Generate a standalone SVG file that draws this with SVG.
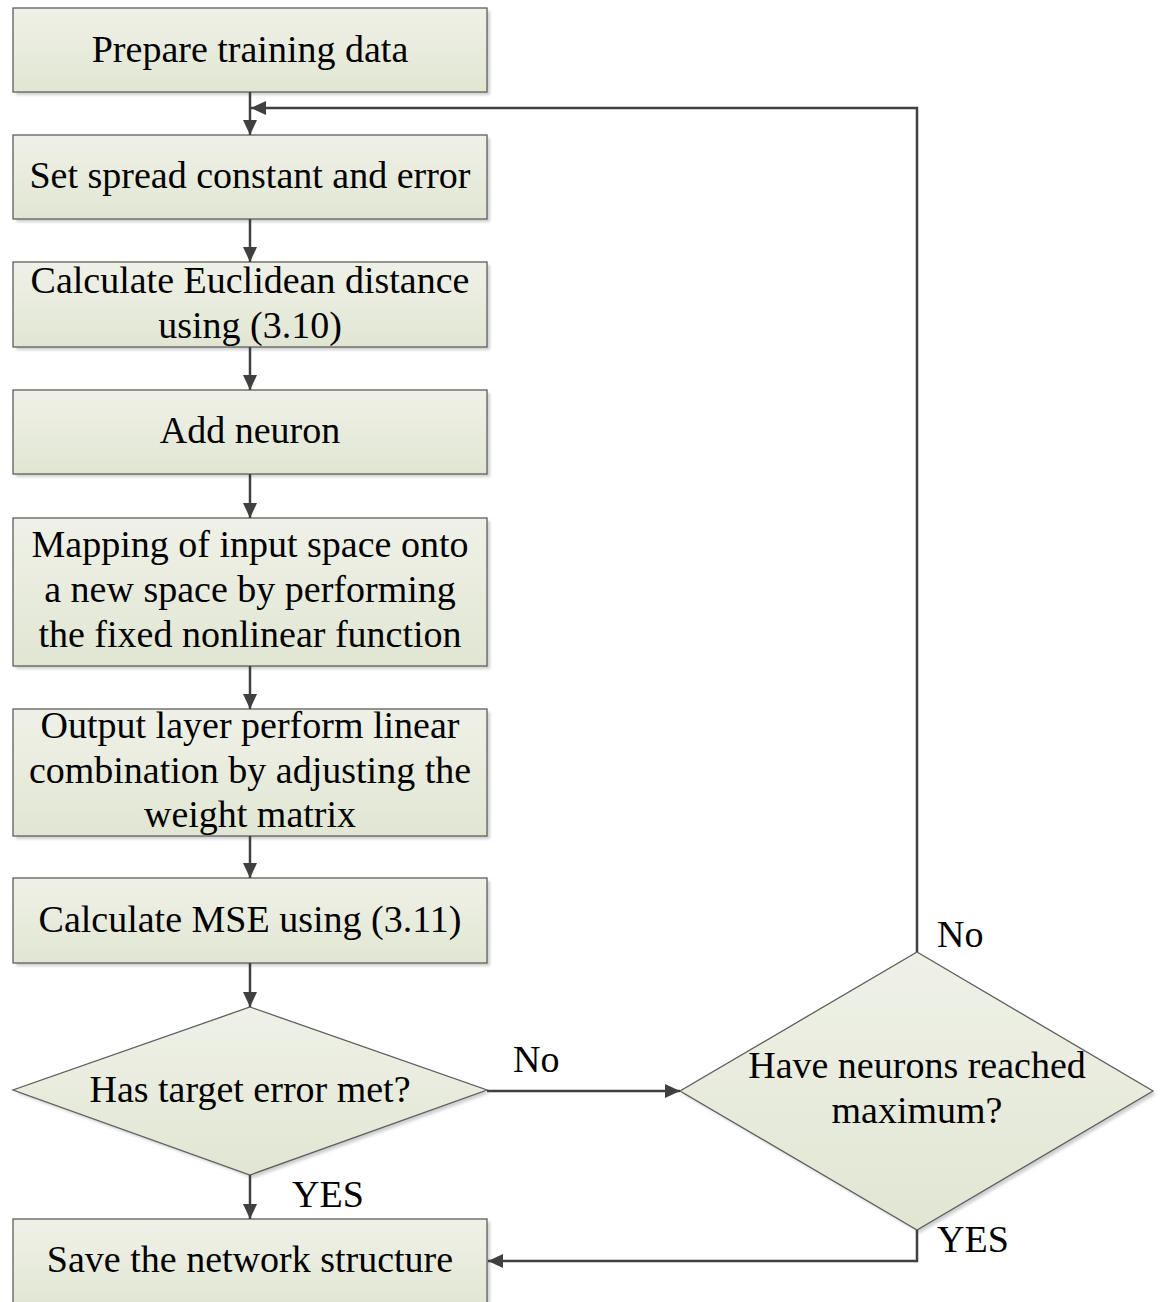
<svg xmlns="http://www.w3.org/2000/svg" width="1160" height="1302" viewBox="0 0 1160 1302">
<style>
.box{fill:url(#g);stroke:#5e5e5e;stroke-width:1.3}
.sh{fill:#cfcfcf;filter:url(#b)}
.t{font-family:"Liberation Serif","Times New Roman",serif;font-size:38px;fill:#000;text-anchor:middle}
.l{font-family:"Liberation Serif","Times New Roman",serif;font-size:38px;fill:#000}
.c{fill:none;stroke:#404040;stroke-width:2.5}
</style>
<defs>
<linearGradient id="g" x1="0" y1="0" x2="0" y2="1">
<stop offset="0" stop-color="#eff1e7"/>
<stop offset="1" stop-color="#e1e6d3"/>
</linearGradient>
<filter id="b" x="-5%" y="-5%" width="110%" height="110%"><feGaussianBlur stdDeviation="1.5"/></filter>
<marker id="a" markerUnits="userSpaceOnUse" markerWidth="16" markerHeight="14" refX="15" refY="7" orient="auto">
<path d="M0,0 L15,7 L0,14 Z" fill="#404040"/>
</marker>
</defs>

<g id="n1"><rect class="sh" x="16" y="11" width="474" height="84"/><rect class="box" x="13" y="8" width="474" height="84"/><text class="t" x="250" y="62">Prepare training data</text></g>
<g id="n2"><rect class="sh" x="16" y="138" width="474" height="84"/><rect class="box" x="13" y="135" width="474" height="84"/><text class="t" x="250" y="188">Set spread constant and error</text></g>
<g id="n3"><rect class="sh" x="16" y="265" width="474" height="85"/><rect class="box" x="13" y="262" width="474" height="85"/><text class="t" x="250" y="293">Calculate Euclidean distance</text><text class="t" x="250" y="338">using (3.10)</text></g>
<g id="n4"><rect class="sh" x="16" y="393" width="474" height="84"/><rect class="box" x="13" y="390" width="474" height="84"/><text class="t" x="250" y="443">Add neuron</text></g>
<g id="n5"><rect class="sh" x="16" y="521" width="474" height="148"/><rect class="box" x="13" y="518" width="474" height="148"/><text class="t" x="250" y="557">Mapping of input space onto</text><text class="t" x="250" y="602">a new space by performing</text><text class="t" x="250" y="647">the fixed nonlinear function</text></g>
<g id="n6"><rect class="sh" x="16" y="712" width="474" height="127"/><rect class="box" x="13" y="709" width="474" height="127"/><text class="t" x="250" y="738">Output layer perform linear</text><text class="t" x="250" y="783">combination by adjusting the</text><text class="t" x="250" y="827">weight matrix</text></g>
<g id="n7"><rect class="sh" x="16" y="881" width="474" height="85"/><rect class="box" x="13" y="878" width="474" height="85"/><text class="t" x="250" y="932">Calculate MSE using (3.11)</text></g>
<g id="d1"><polygon class="sh" points="253,1010 490,1093 253,1178 16,1093"/><polygon class="box" points="250,1007 487,1090 250,1175 13,1090"/><text class="t" x="250" y="1102">Has target error met?</text></g>
<g id="n8"><rect class="sh" x="16" y="1222" width="474" height="90"/><rect class="box" x="13" y="1219" width="474" height="90"/><text class="t" x="250" y="1272">Save the network structure</text></g>
<g id="d2"><polygon class="sh" points="920,955 1156,1094 920,1233 683,1094"/><polygon class="box" points="917,952 1153,1091 917,1230 680,1091"/><text class="t" x="917" y="1078">Have neurons reached</text><text class="t" x="917" y="1123">maximum?</text></g>

<g id="connectors">
<line class="c" x1="250" y1="92" x2="250" y2="135" marker-end="url(#a)"/>
<polyline class="c" points="917,952 917,108 251,108" marker-end="url(#a)"/>
<line class="c" x1="250" y1="219" x2="250" y2="262" marker-end="url(#a)"/>
<line class="c" x1="250" y1="347" x2="250" y2="390" marker-end="url(#a)"/>
<line class="c" x1="250" y1="474" x2="250" y2="518" marker-end="url(#a)"/>
<line class="c" x1="250" y1="666" x2="250" y2="709" marker-end="url(#a)"/>
<line class="c" x1="250" y1="836" x2="250" y2="878" marker-end="url(#a)"/>
<line class="c" x1="250" y1="963" x2="250" y2="1007" marker-end="url(#a)"/>
<line class="c" x1="250" y1="1175" x2="250" y2="1219" marker-end="url(#a)"/>
<line class="c" x1="487" y1="1091" x2="680" y2="1091" marker-end="url(#a)"/>
<polyline class="c" points="917,1230 917,1261 488,1261" marker-end="url(#a)"/>
<text class="l" x="513" y="1072">No</text>
<text class="l" x="292" y="1207">YES</text>
<text class="l" x="937" y="947">No</text>
<text class="l" x="937" y="1252">YES</text>
</g>
</svg>
